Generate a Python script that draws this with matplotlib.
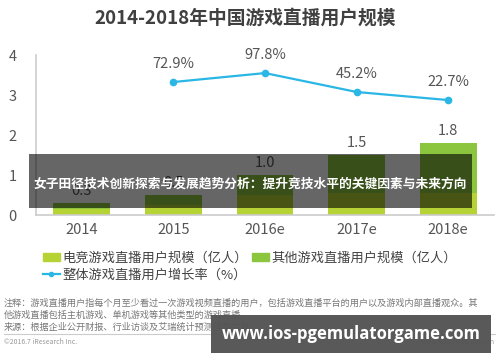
import matplotlib
matplotlib.use("Agg")
import matplotlib.pyplot as plt
from matplotlib.patches import Patch, Rectangle
from matplotlib.lines import Line2D

plt.rcParams['font.family'] = ['Noto Sans CJK SC', 'DejaVu Sans']

years = ["2014", "2015", "2016e", "2017e", "2018e"]
esports = [0.15, 0.25, 0.5, 0.55, 0.55]
totals = [0.3, 0.5, 1.0, 1.5, 1.8]
others = [t - e for t, e in zip(totals, esports)]
growth_years = ["2015", "2016e", "2017e", "2018e"]
growth = [72.9, 97.8, 45.2, 22.7]

C_ESPORT = "#b5d334"
C_OTHER = "#8cc63f"
C_LINE = "#2ab7e6"
C_TEXT = "#555555"

W, H = 500, 362
fig = plt.figure(figsize=(W / 100, H / 100), dpi=100)
ax = fig.add_axes([0.072, 0.406, 0.916, 0.442])
x = list(range(len(years)))
ax.bar(x, esports, width=0.62, color=C_ESPORT, zorder=2)
ax.bar(x, others, width=0.62, bottom=esports, color=C_OTHER, zorder=2)
for xi, t in zip(x, totals):
    ax.text(xi, t + 0.12, f"{t:.1f}", ha="center", va="bottom", fontsize=10.5, color=C_TEXT)

ax.set_xlim(-0.5, 4.5)
ax.set_ylim(0, 4)
ax.set_yticks([0, 1, 2, 3, 4])
ax.set_xticks(x)
ax.set_xticklabels(years)
ax.tick_params(axis="both", length=0, labelsize=10.5, colors=C_TEXT)
ax.tick_params(axis="y", pad=14)
ax.tick_params(axis="x", pad=6)
for s in ["top", "right"]:
    ax.spines[s].set_visible(False)
for s in ["left", "bottom"]:
    ax.spines[s].set_color("#cccccc")
    ax.spines[s].set_linewidth(1.2)

ax2 = ax.twinx()
ax2.set_ylim(-297, 148)
gx = [years.index(g) for g in growth_years]
ax2.plot(gx, growth, color=C_LINE, lw=1.6, marker="o", ms=4.5, zorder=3)
for xi, g in zip(gx, growth):
    ax2.annotate(f"{g}%", (xi, g), xytext=(0, 8), textcoords="offset points",
                 ha="center", va="bottom", fontsize=10.5, color=C_TEXT)
ax2.set_yticks([])
for s in ax2.spines.values():
    s.set_visible(False)

fig.text(0.49, 0.95, "2014-2018年中国游戏直播用户规模", ha="center", va="center",
         fontsize=13.5, fontweight="bold", color="#404040")

handles = [Patch(color=C_ESPORT), Line2D([], [], color=C_LINE, marker="o", ms=3, lw=1.6),
           Patch(color=C_OTHER)]
labels = ["电竞游戏直播用户规模（亿人）", "整体游戏直播用户增长率（%）", "其他游戏直播用户规模（亿人）"]
fig.legend(handles, labels, ncol=2, loc="upper left", bbox_to_anchor=(0.085, 0.305),
           frameon=False, fontsize=9.5, handlelength=1.3, handleheight=0.55,
           handletextpad=0.2, columnspacing=0.3, labelspacing=0.3, labelcolor="#444444",
           borderpad=0, borderaxespad=0)

notes = ["注释：游戏直播用户指每个月至少看过一次游戏视频直播的用户，包括游戏直播平台的用户以及游戏内部直播观众。其",
         "他游戏直播包括主机游戏、单机游戏等其他类型的游戏直播。",
         "来源：根据企业公开财报、行业访谈及艾瑞统计预测模型估算。"]
for i, n in enumerate(notes):
    fig.text(0.008, 1 - (303 + i * 12) / H, n, ha="left", va="center", fontsize=6.6, color="#777777")
fig.add_artist(Line2D([0.008, 0.99], [1 - 334 / H] * 2, color="#cccccc", lw=0.8))
fig.text(0.008, 1 - 342 / H, "©2016.7 iResearch Inc.", ha="left", va="center", fontsize=5, color="#999999")
fig.text(0.99, 1 - 342 / H, "www.iresearch.com.cn", ha="right", va="center", fontsize=5, color="#999999")

# overlay banners
fig.add_artist(Rectangle((29 / W, 1 - 208 / H), (472 - 29) / W, 54 / H,
                         transform=fig.transFigure, fc=(0, 0, 0, 0.6), ec="none", zorder=9))
fig.text(250 / W, 1 - 184 / H, "女子田径技术创新探索与发展趋势分析：提升竞技水平的关键因素与未来方向",
         ha="center", va="center", fontsize=9.2, fontweight="bold", color="white", zorder=10)
fig.add_artist(Rectangle((211 / W, 1 - 353 / H), (491 - 211) / W, 38 / H,
                         transform=fig.transFigure, fc=(0.33, 0.33, 0.33, 0.97), ec="none", zorder=9))
fig.text(351 / W, 1 - 334 / H, "www.ios-pgemulatorgame.com", ha="center", va="center",
         fontsize=12, fontweight="bold", color="white", family=["Open Sans", "DejaVu Sans"],
         zorder=10)

fig.savefig("out.png", dpi=100)
